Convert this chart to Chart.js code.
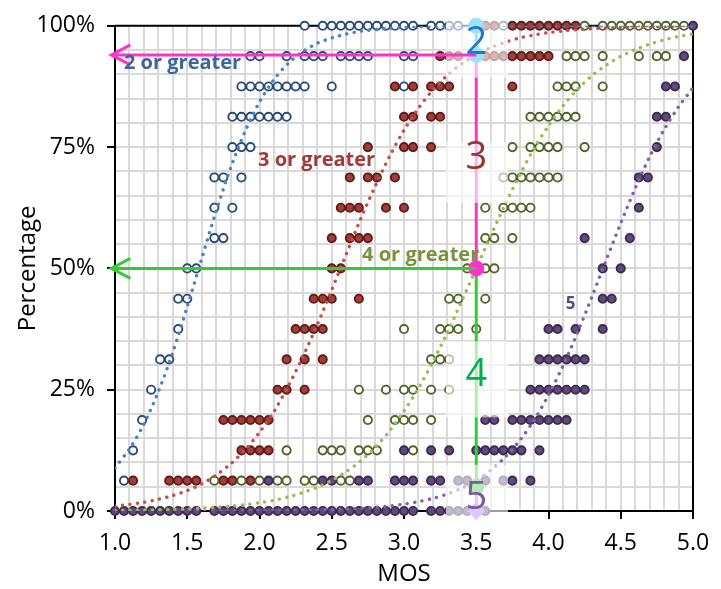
<!DOCTYPE html>
<html>
<head>
<meta charset="utf-8">
<script src="https://cdn.jsdelivr.net/npm/chart.js@4/dist/chart.umd.min.js"></script>
<style>
  html, body { margin: 0; padding: 0; background: #ffffff; }
  #wrap { width: 721px; height: 589px; position: relative; }
</style>
</head>
<body>
<div id="wrap"><canvas id="chart" width="721" height="589"></canvas></div>
<script>
// Share of votes (%) at or above a rating, per stimulus MOS, grouped by share level.
const geq2 = [
  [100,   [2.3125, 2.4375, 2.5, 2.5625, 2.625, 2.6875, 2.75, 2.8125, 2.875, 2.9375, 3, 3.0625, 3.1875, 3.25, 3.3125, 3.375, 3.6875]],
  [93.75, [1.9375, 2, 2.1875, 2.3125, 2.375, 2.4375, 2.5625, 2.625, 2.6875, 2.75, 3, 3.0625]],
  [87.5,  [1.875, 1.9375, 2, 2.0625, 2.125, 2.1875, 2.25, 2.3125, 2.5, 3]],
  [81.25, [1.8125, 1.875, 1.9375, 2, 2.0625, 2.125, 2.1875]],
  [75,    [1.8125, 1.875, 1.9375]],
  [68.75, [1.6875, 1.75, 1.875]],
  [62.5,  [1.6875, 1.8125]],
  [56.25, [1.6875, 1.75]],
  [50,    [1.5, 1.5625]],
  [43.75, [1.4375, 1.5]],
  [37.5,  [1.4375]],
  [31.25, [1.3125, 1.375]],
  [25,    [1.25]],
  [18.75, [1.1875]],
  [12.5,  [1.125]],
  [6.25,  [1.0625]]
];
const geq3 = [
  [100,   [3.5625, 3.625, 3.75, 3.8125, 3.875, 3.9375, 4, 4.0625, 4.125, 4.1875]],
  [93.75, [3.25, 3.3125, 3.375, 3.5625, 3.625, 3.6875, 3.75, 3.8125, 3.875, 3.9375, 4]],
  [87.5,  [2.9375, 3.0625, 3.1875, 3.25, 3.3125, 3.75]],
  [81.25, [3, 3.0625, 3.1875, 3.25]],
  [75,    [2.75, 3, 3.0625, 3.1875]],
  [68.75, [2.625, 2.75, 2.8125, 2.9375]],
  [62.5,  [2.5625, 2.625, 2.6875, 2.875, 3]],
  [56.25, [2.5, 2.625, 2.6875, 2.75]],
  [50,    [2.5, 2.5625]],
  [43.75, [2.375, 2.4375, 2.5, 2.6875]],
  [37.5,  [2.25, 2.3125, 2.375, 2.4375]],
  [31.25, [2.1875, 2.3125, 2.4375]],
  [25,    [2.125, 2.1875, 2.3125]],
  [18.75, [1.75, 1.8125, 1.875, 1.9375, 2, 2.0625]],
  [12.5,  [1.875, 1.9375, 2, 2.0625]],
  [6.25,  [1.125, 1.375, 1.4375, 1.5, 1.5625, 1.75, 1.8125, 1.9375]]
];
const geq4 = [
  [100,   [4.25, 4.375, 4.4375, 4.5, 4.5625, 4.625, 4.6875, 4.75, 4.8125, 4.875, 4.9375]],
  [93.75, [4.125, 4.1875, 4.25, 4.375, 4.625, 4.75, 4.8125]],
  [87.5,  [4.0625, 4.125, 4.1875, 4.375]],
  [81.25, [3.875, 3.9375, 4, 4.0625, 4.125, 4.1875]],
  [75,    [3.75, 3.875, 3.9375, 4, 4.0625, 4.25]],
  [68.75, [3.6875, 3.75, 3.8125, 3.875, 3.9375, 4, 4.0625]],
  [62.5,  [3.5625, 3.6875, 3.75, 3.8125, 3.875]],
  [56.25, [3.5625, 3.625, 3.75]],
  [50,    [3.4375, 3.5625, 3.625]],
  [43.75, [3.3125, 3.375, 3.5625]],
  [37.5,  [3, 3.25, 3.3125, 3.375, 3.5]],
  [31.25, [3.1875, 3.25, 3.3125]],
  [25,    [2.6875, 2.875, 3, 3.0625, 3.1875, 3.3125]],
  [18.75, [2.75, 2.9375, 3, 3.0625, 3.1875]],
  [12.5,  [2.1875, 2.4375, 2.5, 2.5625, 2.6875, 2.75, 2.8125, 3.0625]],
  [6.25,  [1.6875, 1.875, 2, 2.125, 2.1875, 2.3125, 2.375, 2.5625, 2.625]]
];
const geq5 = [
  [100,   [5]],
  [93.75, [4.9375]],
  [87.5,  [4.8125, 4.875]],
  [81.25, [4.75, 4.8125]],
  [75,    [4.75]],
  [68.75, [4.625, 4.6875]],
  [62.5,  [4.625]],
  [56.25, [4.25, 4.5625]],
  [50,    [4.375, 4.5]],
  [43.75, [4.375, 4.4375]],
  [37.5,  [4, 4.0625, 4.1875, 4.375]],
  [31.25, [3.9375, 4, 4.0625, 4.125, 4.1875, 4.25]],
  [25,    [3.875, 3.9375, 4, 4.0625, 4.125, 4.1875, 4.25]],
  [18.75, [3.5625, 3.625, 3.75, 3.8125, 3.875, 3.9375, 4, 4.0625, 4.125]],
  [12.5,  [3, 3.1875, 3.3125, 3.5, 3.5625, 3.625, 3.6875, 3.75, 3.8125, 3.9375]],
  [6.25,  [2.0625, 2.4375, 2.5, 2.6875, 2.75, 2.9375, 3, 3.0625, 3.1875, 3.25, 3.375, 3.4375, 3.5625, 3.6875, 3.75, 3.875]],
  [0,     [1, 1.0625, 1.125, 1.1875, 1.25, 1.3125, 1.375, 1.4375, 1.5, 1.5625, 1.6875, 1.75, 1.8125, 1.875,
           1.9375, 2, 2.0625, 2.125, 2.1875, 2.25, 2.3125, 2.375, 2.4375, 2.5, 2.5625, 2.625, 2.6875, 2.75,
           2.8125, 2.875, 2.9375, 3, 3.0625, 3.1875, 3.25, 3.3125, 3.375, 3.4375, 3.5, 3.5625]]
];

// Fitted curves, sampled along MOS.
const fitMos = [1.0, 1.1, 1.2, 1.3, 1.4, 1.5, 1.6, 1.7, 1.8, 1.9, 2.0, 2.1, 2.2, 2.3, 2.4, 2.5, 2.6, 2.7, 2.8, 2.9,
                3.0, 3.1, 3.2, 3.3, 3.4, 3.5, 3.6, 3.7, 3.8, 3.9, 4.0, 4.1, 4.2, 4.3, 4.4, 4.5, 4.6, 4.7, 4.8, 4.9, 5.0];
const fit2 = [8.9, 12.8, 17.9, 24.6, 32.7, 42.1, 52.0, 61.8, 70.7, 78.2, 84.3, 88.9, 92.3, 94.7, 96.4, 97.5, 98.3, 98.9, 99.2, 99.5,
              99.7, 99.8, 99.9, 99.9, 100, 100, 100, 100, 100, 100, 100, 100, 100, 100, 100, 100, 100, 100, 100, 100, 100];
const fit3 = [1.0, 1.35, 1.8, 2.4, 3.2, 4.2, 5.6, 7.4, 9.7, 12.6, 16.2, 20.5, 25.8, 31.8, 38.4, 45.6, 52.9, 60.2, 66.9, 73.1,
              78.5, 83.0, 86.8, 89.8, 92.2, 94.1, 95.5, 96.6, 97.5, 98.1, 98.6, 98.9, 99.2, 99.4, 99.55, 99.65, 99.75, 99.8, 99.86, 99.9, 99.92];
const fit4 = [0.12, 0.15, 0.2, 0.26, 0.34, 0.45, 0.59, 0.77, 1.0, 1.3, 1.7, 2.2, 2.9, 3.8, 4.9, 6.3, 8.1, 10.3, 13.1, 16.5,
              20.6, 25.3, 30.8, 36.8, 43.3, 50, 56.7, 63.2, 69.2, 74.7, 79.4, 83.5, 86.9, 89.7, 91.9, 93.7, 95.1, 96.2, 97.1, 97.8, 98.3];
const fit5 = [0, 0, 0.01, 0.01, 0.01, 0.01, 0.02, 0.03, 0.04, 0.05, 0.07, 0.09, 0.12, 0.17, 0.23, 0.31, 0.42, 0.57, 0.77, 1.05,
              1.42, 1.93, 2.6, 3.5, 4.7, 6.3, 8.4, 11.1, 14.5, 18.7, 23.9, 29.9, 36.7, 44.1, 51.8, 59.3, 66.5, 73.0, 78.6, 83.3, 87.2];

// Reading at MOS 3.5: shares at or above 2, 3, 4 and 5.
const readMos = 3.5;
const readShares = [100, 94, 50, 5, 0];

// Axis ticks
const mosLabels = [1.0, 1.5, 2.0, 2.5, 3.0, 3.5, 4.0, 4.5, 5.0];
const pctLabels = [0, 25, 50, 75, 100];

const toPoints = rows => rows.flatMap(([pct, xs]) => xs.map(x => ({ x, y: pct })));
const toCurve = ys => fitMos.map((x, i) => ({ x, y: ys[i] }));
const isMosLabel = v => mosLabels.some(m => Math.abs(m - v) < 1e-6);
const isPctLabel = v => pctLabels.some(p => Math.abs(p - v) < 1e-6);

const FONT = "'Open Sans', 'DejaVu Sans', sans-serif";

function scatterSet(label, rows, fill, stroke, order) {
  return {
    type: 'scatter', label, data: toPoints(rows), order, clip: false,
    pointRadius: 4.1, pointHoverRadius: 4.1, pointBorderWidth: 1.9,
    pointBackgroundColor: fill, pointBorderColor: stroke, showLine: false
  };
}
function curveSet(label, ys, color) {
  return {
    type: 'line', label, data: toCurve(ys), order: 6,
    borderColor: color, borderWidth: 3.4, borderDash: [0.1, 7.4], borderCapStyle: 'round',
    pointRadius: 0, tension: 0.3, fill: false
  };
}
function segmentSet(label, y0, y1, color, radii, style) {
  return {
    type: 'line', label, data: [{ x: readMos, y: y0 }, { x: readMos, y: y1 }], order: 4, clip: false,
    borderColor: color, borderWidth: 3, pointRadius: radii, pointStyle: style || 'circle',
    pointBackgroundColor: color, pointBorderColor: color, pointBorderWidth: 0, fill: false
  };
}
function arrowSet(label, y, color, order) {
  return {
    type: 'line', label, data: [{ x: readMos, y }, { x: 0.975, y }], order, clip: false,
    borderColor: color, borderWidth: 3, pointRadius: 0, fill: false
  };
}

const MAGENTA = '#ff33cc', GREEN = '#33cc33';

// Translucent callouts at MOS 3.5 (value ranges in %), each with its rating digit.
const callouts = [
  { text: '2', top: 102, bottom: 89.3, textY: 96.5, color: '#1f7ac6' },
  { text: '3', top: 76,  bottom: 63.5, textY: 72.8, color: '#953735' },
  { text: '4', top: 35,  bottom: 19.3, textY: 28,   color: '#00b050' },
  { text: '5', top: 9.5, bottom: -2.8, textY: 2.6,  color: '#7a5a9e' }
];
const seriesNotes = [
  { text: '2 or greater', x: 1.062, y: 92.2, color: '#3d679b', size: 20 },
  { text: '3 or greater', x: 1.99,  y: 72.2, color: '#a33a38', size: 20 },
  { text: '4 or greater', x: 2.71,  y: 52.6, color: '#77933c', size: 20 },
  { text: '5',            x: 4.12,  y: 42.7, color: '#604a7b', size: 17 }
];

const overlay = {
  id: 'overlay',
  beforeDatasetsDraw(chart) {
    const { ctx, chartArea: a } = chart;
    ctx.save();
    ctx.strokeStyle = '#000'; ctx.lineWidth = 2;
    ctx.beginPath();
    ctx.moveTo(a.left, a.top); ctx.lineTo(a.right, a.top); ctx.lineTo(a.right, a.bottom);
    ctx.stroke();
    ctx.restore();
  },
  beforeDatasetDraw(chart, args) {
    if (chart.data.datasets[args.index].label !== 'arrow-high') return;
    const { ctx, scales: { x, y } } = chart;
    const xl = x.getPixelForValue(readMos - 0.21), xr = x.getPixelForValue(readMos + 0.22);
    ctx.save();
    callouts.forEach(c => {
      const yt = y.getPixelForValue(c.top), yb = y.getPixelForValue(c.bottom);
      ctx.fillStyle = 'rgba(255,255,255,0.62)';
      ctx.fillRect(xl, yt, xr - xl, yb - yt);
    });
    ctx.font = `38px ${FONT}`;
    ctx.textAlign = 'center'; ctx.textBaseline = 'middle';
    callouts.forEach(c => {
      ctx.fillStyle = c.color;
      ctx.fillText(c.text, x.getPixelForValue(readMos), y.getPixelForValue(c.textY));
    });
    ctx.restore();
  },
  afterDatasetsDraw(chart) {
    const { ctx, scales: { x, y } } = chart;
    ctx.save();
    // arrow heads
    [[readShares[1], MAGENTA], [readShares[2], GREEN]].forEach(([v, col]) => {
      const tx = x.getPixelForValue(0.975), ty = y.getPixelForValue(v);
      ctx.strokeStyle = col; ctx.lineWidth = 3; ctx.lineCap = 'butt';
      ctx.beginPath();
      ctx.moveTo(tx + 19, ty - 10); ctx.lineTo(tx, ty); ctx.lineTo(tx + 19, ty + 10);
      ctx.stroke();
    });
    // series notes
    ctx.textAlign = 'left'; ctx.textBaseline = 'middle';
    seriesNotes.forEach(n => {
      ctx.font = `bold ${n.size}px ${FONT}`;
      ctx.fillStyle = n.color;
      ctx.fillText(n.text, x.getPixelForValue(n.x), y.getPixelForValue(n.y));
    });
    ctx.restore();
  }
};

new Chart(document.getElementById('chart'), {
  data: {
    datasets: [
      scatterSet('2 or greater', geq2, '#ffffff', '#284a74', 10),
      scatterSet('3 or greater', geq3, '#a33d3a', '#5e1c1a', 9),
      scatterSet('4 or greater', geq4, '#ffffff', '#4f6228', 8),
      scatterSet('5', geq5, '#604a7b', '#3a2b4f', 7),
      curveSet('fit 2', fit2, '#4f81bd'),
      curveSet('fit 3', fit3, '#c0504d'),
      curveSet('fit 4', fit4, '#9bbb59'),
      curveSet('fit 5', fit5, '#8064a2'),
      segmentSet('share 2', readShares[0], readShares[1], '#00b0f0', [8, 8]),
      segmentSet('share 3', readShares[1], readShares[2], MAGENTA, [0, 8]),
      segmentSet('share 4', readShares[2], readShares[3], GREEN, [0, 8]),
      segmentSet('share 5', readShares[3], readShares[4], '#b36bff', [0, 9], 'rectRot'),
      arrowSet('arrow-high', readShares[1], MAGENTA, 2),
      arrowSet('arrow-mid', readShares[2], GREEN, 1)
    ]
  },
  options: {
    responsive: false,
    animation: false,
    events: [],
    layout: { padding: { top: 22, right: 28, left: 0, bottom: 0 } },
    plugins: { legend: { display: false }, tooltip: { enabled: false } },
    scales: {
      x: {
        type: 'linear', min: 1, max: 5,
        ticks: {
          stepSize: 0.1, autoSkip: false, maxRotation: 0, padding: 11, color: '#000',
          font: { family: FONT, size: 23 },
          callback: v => isMosLabel(v) ? v.toFixed(1) : ''
        },
        grid: {
          color: '#d9d9d9', lineWidth: 2, tickLength: 8, tickWidth: 2,
          tickColor: c => (c.tick && isMosLabel(c.tick.value)) ? '#000' : 'rgba(0,0,0,0)'
        },
        border: { color: '#000', width: 2 },
        title: { display: true, text: 'MOS', color: '#000', font: { family: FONT, size: 24 }, padding: { top: 0, bottom: 0 } },
        afterFit: s => { s.height = 78; }
      },
      y: {
        type: 'linear', min: 0, max: 100,
        ticks: {
          stepSize: 5, autoSkip: false, padding: 12, color: '#000',
          font: { family: FONT, size: 23 },
          callback: v => isPctLabel(v) ? v + '%' : ''
        },
        grid: {
          color: '#d9d9d9', lineWidth: 2, tickLength: 8, tickWidth: 2,
          tickColor: c => (c.tick && isPctLabel(c.tick.value)) ? '#000' : 'rgba(0,0,0,0)'
        },
        border: { color: '#000', width: 2 },
        title: { display: true, text: 'Percentage', color: '#000', font: { family: FONT, size: 24 }, padding: { top: 14, bottom: 0 } },
        afterFit: s => { s.width = 115; }
      }
    }
  },
  plugins: [overlay]
});
</script>
</body>
</html>
